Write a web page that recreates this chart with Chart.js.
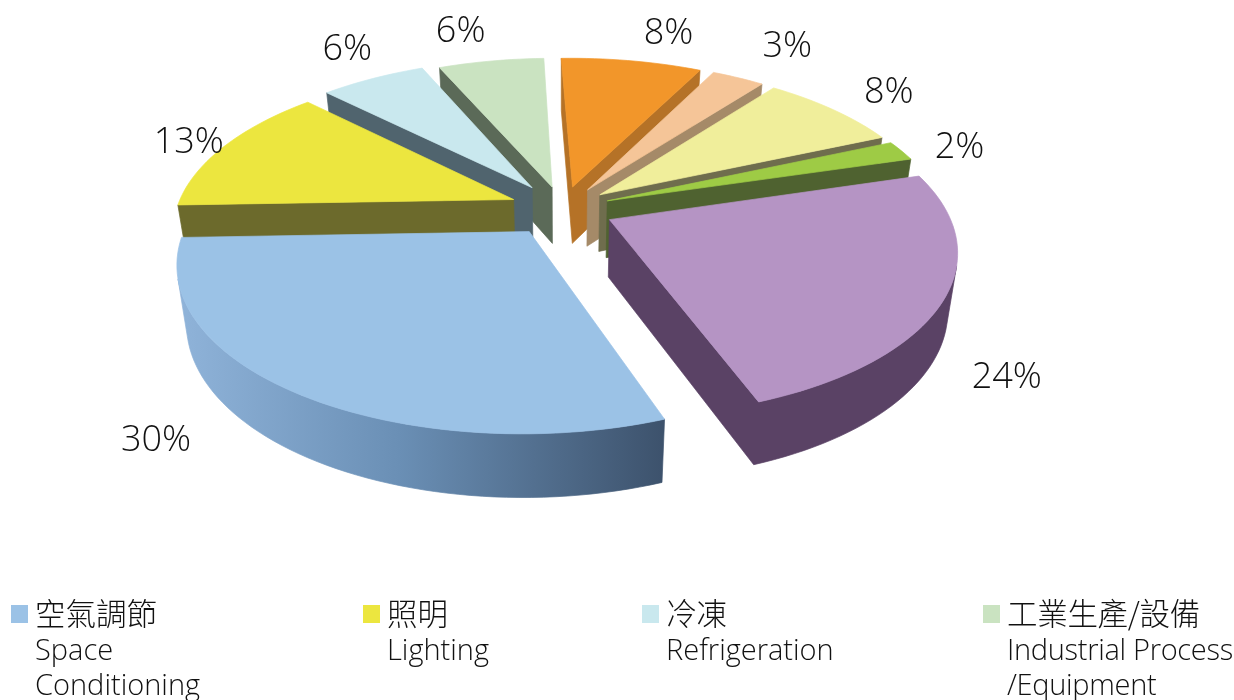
<!DOCTYPE html>
<html>
<head>
<meta charset="utf-8">
<script src="https://cdn.jsdelivr.net/npm/chart.js@4"></script>
<style>
  html, body { margin: 0; background: #fff; overflow: hidden; }
  #wrap { position: relative; width: 1234px; height: 700px; overflow: hidden; }
  #legend div.item { position: absolute; top: 596px; color: #111;
    font: 300 29px/35px "Open Sans", "Noto Sans CJK TC", sans-serif; white-space: nowrap; }
  #legend div.item:last-child { letter-spacing: -0.3px; }
  #legend .zh { font-family: "Noto Sans CJK TC", sans-serif; font-weight: 300; font-size: 30.5px; height: 36px; margin-top: -1px; }
  #legend .box { position: absolute; left: -24px; top: 9px; width: 17px; height: 18px; }
</style>
</head>
<body>
<div id="wrap">
  <canvas id="pie" width="1234" height="700"></canvas>
  <div id="legend"></div>
</div>
<script>
// slices, clockwise, starting from the big blue one
const shares = [30, 13, 6, 6, 8, 3, 8, 2, 24];
const topColors = ['#9bc2e6', '#ece63f', '#c9e8ee', '#cae3c1', '#f2962a', '#f5c598', '#f0ee9b', '#9ecb45', '#b594c4'];
const wallColors = ['#5b7ba0', '#6c6a2c', '#50646e', '#5b6a58', '#b57227', '#a58a68', '#6f6d4d', '#4f6230', '#5a4265'];
const explode = [58, 53, 55, 48, 48, 48, 48, 48, 52];

// only the first four legend entries are inside the picture
const legendZh = ['空氣調節', '照明', '冷凍', '工業生產/設備'];
const legendEn = [['Space', 'Conditioning'], ['Lighting'], ['Refrigeration'], ['Industrial Process', '/Equipment']];
const legendLeft = [35, 387, 666, 1007];

// label placement, as distance from centre (1 = rim) and angle nudge in degrees
const labelDist = [1.51, 1.30, 1.47, 1.47, 1.45, 1.51, 1.40, 1.33, 1.42];
const labelNudge = [6, 0, 2, -2.5, 2.8, 0, 0, 1, 12];

// camera for the tilted pie
const cam = { x: 562.5, y: 208.5, squash: 158 / 337, persp: 0.174, depth: 57, shrink: 0.975 };

function project(X, Y, R) {
  const w = 1 - cam.persp * Y;
  return { x: cam.x + R * X / w, y: cam.y + R * cam.squash * Y / w, w: w };
}

function lower(p) {
  return { x: cam.x + (p.x - cam.x) * cam.shrink, y: p.y + cam.depth / Math.sqrt(p.w) };
}

function sliceOutline(arc) {
  const R = arc.outerRadius;
  const mid = (arc.startAngle + arc.endAngle) / 2;
  const ox = Math.cos(mid) * arc.options.offset / R;
  const oy = Math.sin(mid) * arc.options.offset / R;
  const pts = [project(ox, oy, R)];
  const steps = Math.ceil((arc.endAngle - arc.startAngle) / 0.03);
  for (let i = 0; i <= steps; i++) {
    const a = arc.startAngle + (arc.endAngle - arc.startAngle) * i / steps;
    pts.push(project(ox + Math.cos(a), oy + Math.sin(a), R));
  }
  return pts;
}

function fillPath(ctx, pts, color) {
  ctx.beginPath();
  pts.forEach((p, i) => i ? ctx.lineTo(p.x, p.y) : ctx.moveTo(p.x, p.y));
  ctx.closePath();
  ctx.fillStyle = color;
  ctx.strokeStyle = color;
  ctx.lineWidth = 0.7;
  ctx.fill();
  ctx.stroke();
}

// walls that face the viewer, joined into one strip per run of edges
function drawWalls(ctx, pts, color) {
  const low = pts.map(lower);
  const n = pts.length;
  const faces = pts.map((p, k) => {
    const q = pts[(k + 1) % n];
    return (q.x - p.x) * (low[k].y - p.y) - (q.y - p.y) * (low[k].x - p.x) < 0;
  });
  const first = faces.findIndex(f => !f);
  let upper = [], lowerEdge = [];
  for (let s = 1; s <= n; s++) {
    const k = (first + s) % n;
    if (faces[k]) {
      if (!upper.length) { upper.push(pts[k]); lowerEdge.push(low[k]); }
      upper.push(pts[(k + 1) % n]);
      lowerEdge.push(low[(k + 1) % n]);
    } else if (upper.length) {
      fillPath(ctx, upper.concat(lowerEdge.reverse()), color);
      upper = [];
      lowerEdge = [];
    }
  }
}

const tiltedPie = {
  id: 'tiltedPie',
  beforeDatasetsDraw(chart) {
    const ctx = chart.ctx;
    const arcs = chart.getDatasetMeta(0).data;
    const blueWall = ctx.createLinearGradient(180, 0, 668, 0);
    blueWall.addColorStop(0, '#8fb3d9');
    blueWall.addColorStop(0.45, '#6a8fb5');
    blueWall.addColorStop(1, '#3c516b');

    const order = arcs.map((arc, i) => i).sort((a, b) =>
      Math.sin((arcs[a].startAngle + arcs[a].endAngle) / 2) - Math.sin((arcs[b].startAngle + arcs[b].endAngle) / 2));

    order.forEach(i => {
      const pts = sliceOutline(arcs[i]);
      drawWalls(ctx, pts, i === 0 ? blueWall : wallColors[i]);
      fillPath(ctx, pts, topColors[i]);
    });

    ctx.fillStyle = '#111';
    ctx.font = '300 36px "Open Sans", sans-serif';
    ctx.textAlign = 'center';
    ctx.textBaseline = 'middle';
    arcs.forEach((arc, i) => {
      const a = (arc.startAngle + arc.endAngle) / 2 + labelNudge[i] * Math.PI / 180;
      const p = project(Math.cos(a) * labelDist[i], Math.sin(a) * labelDist[i], arc.outerRadius);
      ctx.fillText(shares[i] + '%', p.x + 3, p.y + 3);
    });
    return false;
  }
};

new Chart(document.getElementById('pie'), {
  type: 'pie',
  data: {
    labels: shares.map(v => v + '%'),
    datasets: [{
      data: shares,
      backgroundColor: topColors,
      offset: explode,
      borderWidth: 0
    }]
  },
  options: {
    responsive: false,
    animation: false,
    rotation: 160,
    radius: 337,
    events: [],
    plugins: { legend: { display: false }, tooltip: { enabled: false } }
  },
  plugins: [tiltedPie]
});

const legend = document.getElementById('legend');
legendZh.forEach((zh, i) => {
  const item = document.createElement('div');
  item.className = 'item';
  item.style.left = legendLeft[i] + 'px';
  item.innerHTML = '<span class="box" style="background:' + topColors[i] + '"></span><div class="zh">' + zh + '</div>' + legendEn[i].join('<br>');
  legend.appendChild(item);
});
</script>
</body>
</html>
